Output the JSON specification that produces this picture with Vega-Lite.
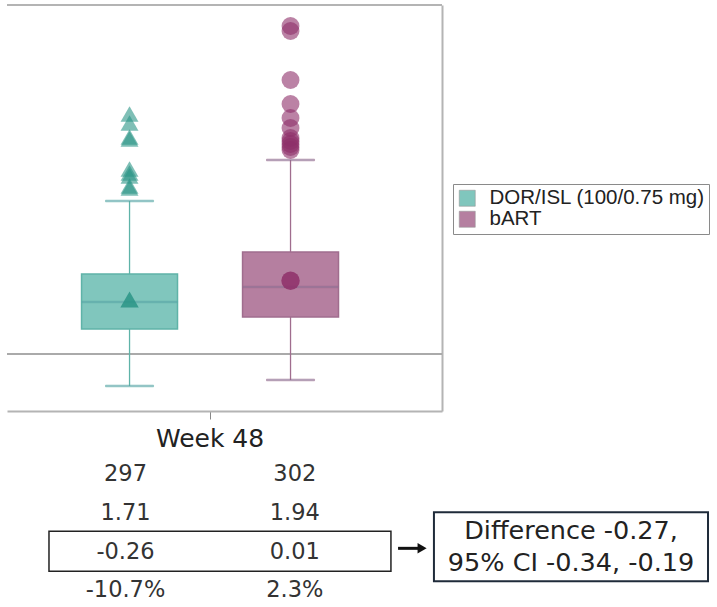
{
  "$schema": "https://vega.github.io/schema/vega-lite/v6.json",
  "padding": {"left": 6, "top": 4, "right": 0, "bottom": 0},
  "background": "white",
  "spacing": 4,
  "config": {"view": {"stroke": null}, "font": "DejaVu Sans"},
  "datasets": {
    "box": [
      {"visit": "Week 48", "group": "DOR/ISL (100/0.75 mg)", "lower": -0.851, "q1": 0.665, "median": 1.383, "q3": 2.128, "upper": 4.069, "mean": 1.45},
      {"visit": "Week 48", "group": "bART", "lower": -0.691, "q1": 0.984, "median": 1.782, "q3": 2.713, "upper": 5.16, "mean": 1.95}
    ],
    "outliers": [
      {"visit": "Week 48", "group": "DOR/ISL (100/0.75 mg)", "value": 6.383},
      {"visit": "Week 48", "group": "DOR/ISL (100/0.75 mg)", "value": 6.144},
      {"visit": "Week 48", "group": "DOR/ISL (100/0.75 mg)", "value": 5.771},
      {"visit": "Week 48", "group": "DOR/ISL (100/0.75 mg)", "value": 5.718},
      {"visit": "Week 48", "group": "DOR/ISL (100/0.75 mg)", "value": 4.92},
      {"visit": "Week 48", "group": "DOR/ISL (100/0.75 mg)", "value": 4.814},
      {"visit": "Week 48", "group": "DOR/ISL (100/0.75 mg)", "value": 4.734},
      {"visit": "Week 48", "group": "DOR/ISL (100/0.75 mg)", "value": 4.468},
      {"visit": "Week 48", "group": "DOR/ISL (100/0.75 mg)", "value": 4.415},
      {"visit": "Week 48", "group": "bART", "value": 8.723},
      {"visit": "Week 48", "group": "bART", "value": 8.59},
      {"visit": "Week 48", "group": "bART", "value": 7.287},
      {"visit": "Week 48", "group": "bART", "value": 6.649},
      {"visit": "Week 48", "group": "bART", "value": 6.277},
      {"visit": "Week 48", "group": "bART", "value": 6.011},
      {"visit": "Week 48", "group": "bART", "value": 5.745},
      {"visit": "Week 48", "group": "bART", "value": 5.665},
      {"visit": "Week 48", "group": "bART", "value": 5.585},
      {"visit": "Week 48", "group": "bART", "value": 5.505},
      {"visit": "Week 48", "group": "bART", "value": 5.426}
    ],
    "table": [
      {"group": "DOR/ISL (100/0.75 mg)", "stat": "n", "label": "297"},
      {"group": "DOR/ISL (100/0.75 mg)", "stat": "baseline", "label": "1.71"},
      {"group": "DOR/ISL (100/0.75 mg)", "stat": "change", "label": "-0.26"},
      {"group": "DOR/ISL (100/0.75 mg)", "stat": "pct", "label": "-10.7%"},
      {"group": "bART", "stat": "n", "label": "302"},
      {"group": "bART", "stat": "baseline", "label": "1.94"},
      {"group": "bART", "stat": "change", "label": "0.01"},
      {"group": "bART", "stat": "pct", "label": "2.3%"}
    ],
    "diff": [
      {"lines": ["Difference -0.27,", "95% CI -0.34, -0.19"]}
    ]
  },
  "vconcat": [
    {
      "width": 435,
      "height": 406,
      "resolve": {"legend": {"color": "independent", "fill": "independent", "stroke": "independent", "shape": "independent"}},
      "layer": [
        {
          "data": {"values": [{}]},
          "mark": {"type": "rule", "color": "#aaaaaa", "strokeWidth": 2},
          "encoding": {"y": {"datum": 0, "type": "quantitative", "scale": {"domain": [-1.516, 9.282], "nice": false, "zero": false}, "axis": {"orient": "right", "title": null, "labels": false, "ticks": false, "grid": false, "domainColor": "#b4b4b4", "domainWidth": 2}}}
        },
        {
          "data": {"values": [{}]},
          "mark": {"type": "rule", "color": "#b4b4b4", "strokeWidth": 2},
          "encoding": {"y": {"datum": 9.282, "type": "quantitative", "scale": {"domain": [-1.516, 9.282], "nice": false, "zero": false}, "axis": {"orient": "right", "title": null, "labels": false, "ticks": false, "grid": false, "domainColor": "#b4b4b4", "domainWidth": 2}}}
        },
        {
          "data": {"name": "box"},
          "mark": {"type": "rule", "strokeWidth": 1.3},
          "encoding": {
            "x": {"field": "visit", "type": "nominal", "scale": {"type": "band", "paddingInner": 0, "paddingOuter": 0.1755, "align": 0.372}, "axis": {"title": null, "labelAngle": 0, "labelFontSize": 25, "labelColor": "#222", "labelFont": "DejaVu Sans", "labelPadding": 7, "tickSize": 8, "tickColor": "#888", "tickWidth": 1, "domainColor": "#b4b4b4", "domainWidth": 2, "grid": false}},
            "xOffset": {"field": "group", "type": "nominal", "scale": {"domain": ["DOR/ISL (100/0.75 mg)", "bART"], "paddingInner": 0.404, "paddingOuter": 0.202}},
            "y": {"field": "lower", "type": "quantitative", "scale": {"domain": [-1.516, 9.282], "nice": false, "zero": false}, "axis": {"orient": "right", "title": null, "labels": false, "ticks": false, "grid": false, "domainColor": "#b4b4b4", "domainWidth": 2}},
            "y2": {"field": "upper"},
            "stroke": {"field": "group", "type": "nominal", "scale": {"domain": ["DOR/ISL (100/0.75 mg)", "bART"], "range": ["#5fb3a8", "#a06d8e"]}, "legend": null}
          }
        },
        {
          "data": {"name": "box"},
          "mark": {"type": "tick", "size": 48, "thickness": 1.5, "orient": "horizontal"},
          "encoding": {
            "x": {"field": "visit", "type": "nominal"},
            "xOffset": {"field": "group", "type": "nominal"},
            "y": {"field": "upper", "type": "quantitative"},
            "stroke": {"field": "group", "type": "nominal", "legend": null}
          }
        },
        {
          "data": {"name": "box"},
          "mark": {"type": "tick", "size": 48, "thickness": 1.5, "orient": "horizontal"},
          "encoding": {
            "x": {"field": "visit", "type": "nominal"},
            "xOffset": {"field": "group", "type": "nominal"},
            "y": {"field": "lower", "type": "quantitative"},
            "stroke": {"field": "group", "type": "nominal", "legend": null}
          }
        },
        {
          "data": {"name": "box"},
          "mark": {"type": "bar", "strokeWidth": 1.5},
          "encoding": {
            "x": {"field": "visit", "type": "nominal"},
            "xOffset": {"field": "group", "type": "nominal"},
            "y": {"field": "q1", "type": "quantitative"},
            "y2": {"field": "q3"},
            "color": {"field": "group", "type": "nominal", "scale": {"domain": ["DOR/ISL (100/0.75 mg)", "bART"], "range": ["#80c6bd", "#b57fa0"]}, "legend": {"orient": "none", "legendX": 446, "legendY": 179, "title": null, "symbolType": "square", "symbolSize": 256, "labelFontSize": 20.5, "labelFont": "Liberation Sans", "labelColor": "#222", "labelLimit": 400, "strokeColor": "#8a8a8a", "fillColor": "white", "padding": 4, "rowPadding": -0.5, "labelOffset": 12, "symbolStrokeColor": "#999999", "symbolStrokeWidth": 0.6}}
          }
        },
        {
          "data": {"name": "box"},
          "mark": {"type": "bar", "fill": null, "strokeWidth": 1.5},
          "encoding": {
            "x": {"field": "visit", "type": "nominal"},
            "xOffset": {"field": "group", "type": "nominal"},
            "y": {"field": "q1", "type": "quantitative"},
            "y2": {"field": "q3"},
            "stroke": {"field": "group", "type": "nominal", "legend": null}
          }
        },
        {
          "data": {"name": "box"},
          "mark": {"type": "tick", "size": 96, "thickness": 1.5, "orient": "horizontal"},
          "encoding": {
            "x": {"field": "visit", "type": "nominal"},
            "xOffset": {"field": "group", "type": "nominal"},
            "y": {"field": "median", "type": "quantitative"},
            "stroke": {"field": "group", "type": "nominal", "legend": null}
          }
        },
        {
          "data": {"name": "box"},
          "mark": {"type": "point", "filled": true, "size": 340, "opacity": 0.85, "strokeWidth": 0},
          "encoding": {
            "x": {"field": "visit", "type": "nominal"},
            "xOffset": {"field": "group", "type": "nominal"},
            "y": {"field": "mean", "type": "quantitative"},
            "fill": {"field": "group", "type": "nominal", "scale": {"domain": ["DOR/ISL (100/0.75 mg)", "bART"], "range": ["#2a9486", "#8e2f69"]}, "legend": null},
            "shape": {"field": "group", "type": "nominal", "scale": {"domain": ["DOR/ISL (100/0.75 mg)", "bART"], "range": ["triangle-up", "circle"]}, "legend": null}
          }
        },
        {
          "data": {"name": "outliers"},
          "mark": {"type": "point", "filled": true, "size": 320, "opacity": 0.6, "strokeWidth": 0},
          "encoding": {
            "x": {"field": "visit", "type": "nominal"},
            "xOffset": {"field": "group", "type": "nominal"},
            "y": {"field": "value", "type": "quantitative"},
            "fill": {"field": "group", "type": "nominal", "legend": null},
            "shape": {"field": "group", "type": "nominal", "legend": null}
          }
        }
      ]
    },
    {
      "width": 711,
      "height": 143,
      "layer": [
        {
          "data": {"name": "table"},
          "mark": {"type": "text", "fontSize": 22.5, "color": "#333333", "font": "DejaVu Sans"},
          "encoding": {
            "x": {"field": "group", "type": "nominal", "scale": {"type": "point", "domain": ["DOR/ISL (100/0.75 mg)", "bART"], "range": [118.5, 287.8], "padding": 0}, "axis": null},
            "y": {"field": "stat", "type": "nominal", "scale": {"type": "point", "domain": ["n", "baseline", "change", "pct"], "range": [19.3, 135.3], "padding": 0}, "axis": null},
            "text": {"field": "label"}
          }
        },
        {
          "data": {"values": [{}]},
          "mark": {"type": "rect", "fill": null, "stroke": "#222222", "strokeWidth": 1.5},
          "encoding": {
            "x": {"datum": 0.548, "type": "quantitative", "scale": {"domain": [0.3, 4.5], "nice": false, "zero": false}, "axis": null},
            "x2": {"datum": 2.568},
            "y": {"datum": 1.475, "type": "quantitative", "scale": {"domain": [-0.5, 3.2], "nice": false, "zero": false, "reverse": true}, "axis": null},
            "y2": {"datum": 2.51}
          }
        },
        {
          "data": {"values": [{}]},
          "mark": {"type": "rect", "fill": null, "stroke": "#1f2b3a", "strokeWidth": 2},
          "encoding": {
            "x": {"datum": 2.822, "type": "quantitative", "scale": {"domain": [0.3, 4.5], "nice": false, "zero": false}, "axis": null},
            "x2": {"datum": 4.441},
            "y": {"datum": 0.983, "type": "quantitative", "scale": {"domain": [-0.5, 3.2], "nice": false, "zero": false, "reverse": true}, "axis": null},
            "y2": {"datum": 2.768}
          }
        },
        {
          "data": {"values": [{}]},
          "mark": {"type": "rule", "color": "#111111", "strokeWidth": 3},
          "encoding": {
            "x": {"datum": 2.61, "type": "quantitative", "scale": {"domain": [0.3, 4.5], "nice": false, "zero": false}, "axis": null},
            "x2": {"datum": 2.735},
            "y": {"datum": 1.915, "type": "quantitative", "scale": {"domain": [-0.5, 3.2], "nice": false, "zero": false, "reverse": true}, "axis": null}
          }
        },
        {
          "data": {"values": [{}]},
          "mark": {"type": "point", "shape": "triangle-right", "filled": true, "color": "#111111", "size": 110, "opacity": 1},
          "encoding": {
            "x": {"datum": 2.752, "type": "quantitative", "scale": {"domain": [0.3, 4.5], "nice": false, "zero": false}, "axis": null},
            "y": {"datum": 1.915, "type": "quantitative", "scale": {"domain": [-0.5, 3.2], "nice": false, "zero": false, "reverse": true}, "axis": null}
          }
        },
        {
          "data": {"name": "diff"},
          "mark": {"type": "text", "fontSize": 25.5, "color": "#222222", "font": "DejaVu Sans", "lineHeight": 32},
          "encoding": {
            "x": {"datum": 3.632, "type": "quantitative", "scale": {"domain": [0.3, 4.5], "nice": false, "zero": false}, "axis": null},
            "y": {"datum": 1.475, "type": "quantitative", "scale": {"domain": [-0.5, 3.2], "nice": false, "zero": false, "reverse": true}, "axis": null},
            "text": {"field": "lines"}
          }
        }
      ],
      "resolve": {"scale": {"x": "independent", "y": "independent"}}
    }
  ]
}
